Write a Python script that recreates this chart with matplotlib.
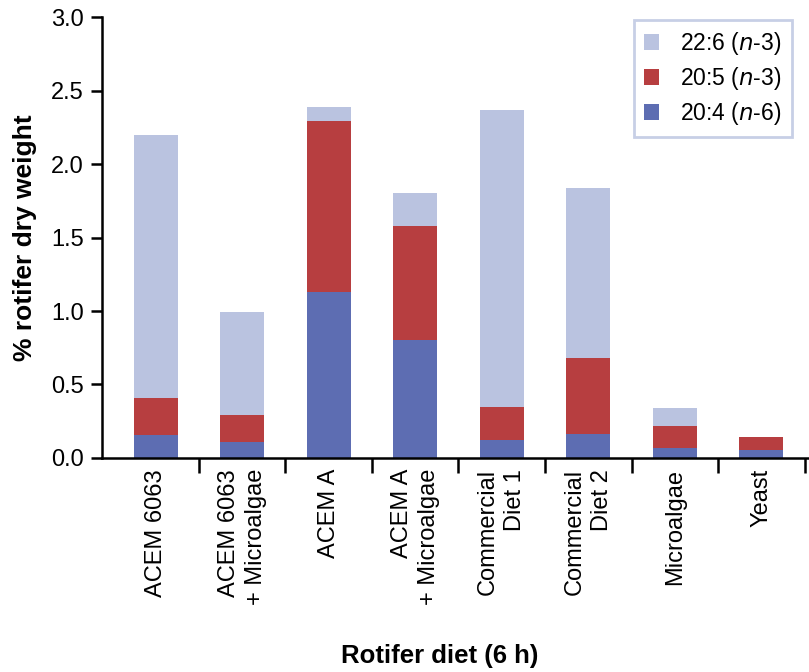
import numpy as np
import matplotlib.pyplot as plt
from matplotlib.ticker import FixedLocator, NullFormatter

plt.rcParams['font.family'] = ['Liberation Sans', 'DejaVu Sans']

diets = ['ACEM 6063', 'ACEM 6063\n+ Microalgae', 'ACEM A', 'ACEM A\n+ Microalgae',
         'Commercial\nDiet 1', 'Commercial\nDiet 2', 'Microalgae', 'Yeast']
ara = [0.155, 0.11, 1.13, 0.80, 0.12, 0.165, 0.07, 0.055]    # 20:4 (n-6)
epa = [0.255, 0.18, 1.16, 0.78, 0.23, 0.515, 0.15, 0.085]    # 20:5 (n-3)
dha = [1.79, 0.70, 0.10, 0.22, 2.02, 1.16, 0.12, 0.0]        # 22:6 (n-3)

c_dha = '#bac3e0'
c_epa = '#b73e40'
c_ara = '#5d6db2'

fig = plt.figure(figsize=(8.09, 6.72), dpi=100)
ax = fig.add_axes([0.126, 0.3185, 0.874, 0.656])

x = np.arange(len(diets))
w = 0.51
b_ara = ax.bar(x, ara, w, color=c_ara, label='20:4 ($n$-6)')
b_epa = ax.bar(x, epa, w, bottom=ara, color=c_epa, label='20:5 ($n$-3)')
b_dha = ax.bar(x, dha, w, bottom=np.array(ara) + np.array(epa), color=c_dha,
               label='22:6 ($n$-3)')

ax.set_xlim(-0.62, 7.55)
ax.set_ylim(0, 3.0)
ax.set_yticks(np.arange(0, 3.01, 0.5))
ax.set_yticklabels([f'{v:.1f}' for v in np.arange(0, 3.01, 0.5)], fontsize=17)

# category labels at bar centres, tick marks between categories
ax.set_xticks(x)
ax.set_xticklabels(diets, rotation=90, fontsize=17, ha='center', va='top',
                   multialignment='right', linespacing=1.3)
ax.tick_params(axis='x', which='major', length=0, pad=8)
ax.xaxis.set_minor_locator(FixedLocator(x + 0.5))
ax.xaxis.set_minor_formatter(NullFormatter())
ax.tick_params(axis='x', which='minor', length=11, width=1.8, direction='out')
ax.tick_params(axis='y', length=8, width=1.8, pad=5)

for s in ['top', 'right']:
    ax.spines[s].set_visible(False)
for s in ['left', 'bottom']:
    ax.spines[s].set_linewidth(1.8)

ax.set_ylabel('% rotifer dry weight', fontsize=19, fontweight='bold', labelpad=10)
fig.text(0.543, 0.006, 'Rotifer diet (6 h)', fontsize=18.5, fontweight='bold',
         ha='center', va='bottom')

leg = ax.legend(handles=[b_dha, b_epa, b_ara], loc='upper right',
                bbox_to_anchor=(0.985, 1.01), fontsize=16.5, frameon=True,
                fancybox=False, handlelength=0.65, handleheight=0.65,
                handletextpad=0.9, labelspacing=0.35, borderpad=0.45,
                borderaxespad=0.3)
leg.get_frame().set_edgecolor(c_dha)
leg.get_frame().set_linewidth(2)

fig.savefig('out.png', dpi=100)
